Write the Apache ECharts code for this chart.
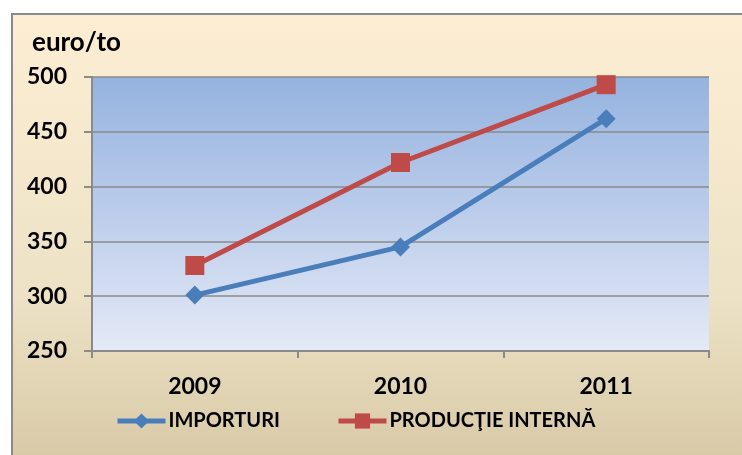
<!DOCTYPE html>
<html>
<head>
<meta charset="utf-8">
<script src="https://cdn.jsdelivr.net/npm/echarts@6/dist/echarts.min.js"></script>
<style>
  html, body { margin: 0; padding: 0; background: #ffffff; }
  #chart { width: 742px; height: 455px; }
</style>
</head>
<body>
<div id="chart"></div>
<script>
// Price comparison, euro per tonne
const years = ['2009', '2010', '2011'];
const importuri = [301, 345, 462];
const productieInterna = [328, 422, 493];
const seriesNames = ['IMPORTURI', 'PRODUCŢIE INTERNĂ'];
const unitLabel = 'euro/to';

const FONT = 'Lato, "Open Sans", sans-serif';

const chart = echarts.init(document.getElementById('chart'), null, { renderer: 'canvas' });

chart.setOption({
  animation: false,
  backgroundColor: '#ffffff',
  graphic: [
    {
      type: 'rect',
      z: -10,
      shape: { x: 12, y: 14, width: 760, height: 470 },
      style: {
        fill: {
          type: 'linear', x: 0, y: 0, x2: 0, y2: 1,
          colorStops: [
            { offset: 0, color: '#FDEED3' },
            { offset: 0.6, color: '#EDE2C6' },
            { offset: 1, color: '#D5C6A2' }
          ]
        },
        stroke: '#8a8a8a',
        lineWidth: 2
      }
    }
  ],
  title: {
    text: unitLabel,
    left: 27,
    top: 25,
    textStyle: { fontFamily: FONT, fontWeight: 'bold', fontSize: 26, color: '#000' }
  },
  grid: {
    left: 92, right: 33, top: 77, bottom: 104,
    show: true,
    borderWidth: 0,
    backgroundColor: {
      type: 'linear', x: 0, y: 0, x2: 0, y2: 1,
      colorStops: [
        { offset: 0, color: '#95B3DF' },
        { offset: 0.5, color: '#BCCDEB' },
        { offset: 1, color: '#E4EAF6' }
      ]
    }
  },
  legend: {
    data: seriesNames,
    left: 115,
    top: 411,
    padding: 0,
    itemWidth: 48,
    itemHeight: 19,
    itemGap: 56,
    lineStyle: { width: 5 },
    textStyle: { fontFamily: FONT, fontWeight: 'bold', fontSize: 20, color: '#000', padding: [0, 0, 0, -2] }
  },
  xAxis: {
    type: 'category',
    data: years,
    boundaryGap: true,
    axisLine: { show: true, lineStyle: { color: '#8a8a8a', width: 2 } },
    axisTick: { show: true, length: 7, lineStyle: { color: '#8a8a8a', width: 2 } },
    axisLabel: { fontFamily: FONT, fontWeight: 'bold', fontSize: 23, color: '#000', margin: 24 },
    splitLine: { show: false }
  },
  yAxis: {
    type: 'value',
    min: 250,
    max: 500,
    interval: 50,
    axisLine: { show: true, lineStyle: { color: '#8a8a8a', width: 2 } },
    axisTick: { show: true, length: 8, lineStyle: { color: '#8a8a8a', width: 2 } },
    axisLabel: { fontFamily: FONT, fontWeight: 'bold', fontSize: 23, color: '#000', margin: 25 },
    splitLine: { show: true, lineStyle: { color: '#8a8a8a', width: 1.5 } }
  },
  series: [
    {
      name: seriesNames[0],
      type: 'line',
      data: importuri,
      symbol: 'diamond',
      symbolSize: 19,
      lineStyle: { color: '#4A7EBB', width: 5 },
      itemStyle: { color: '#4A7EBB' },
      z: 3
    },
    {
      name: seriesNames[1],
      type: 'line',
      data: productieInterna,
      symbol: 'rect',
      symbolSize: 19,
      lineStyle: { color: '#BE4B48', width: 5 },
      itemStyle: { color: '#BE4B48' },
      z: 4
    }
  ]
});
</script>
</body>
</html>
